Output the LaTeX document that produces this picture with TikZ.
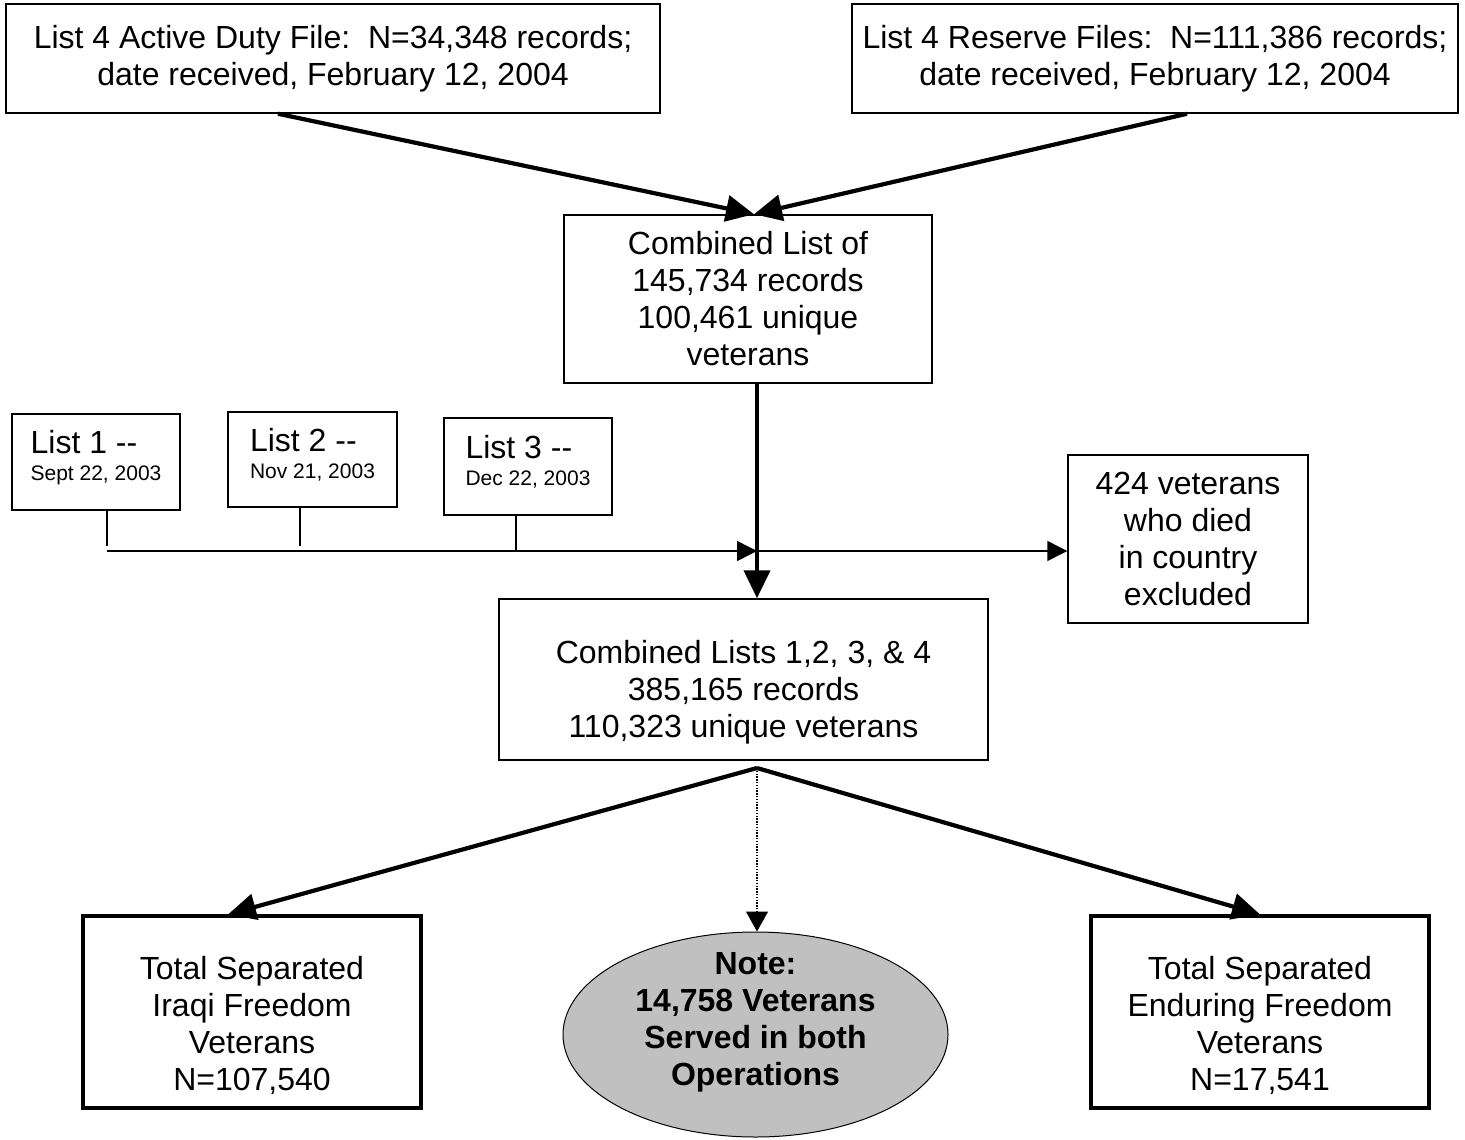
\documentclass[tikz,border=0pt]{standalone}
\usepackage{fontspec}
\setmainfont{Liberation Sans}
\usepackage{xcolor}
\usepackage{tikz}
\usetikzlibrary{positioning,arrows.meta,shapes.geometric}
\definecolor{notegray}{HTML}{C0C0C0}
\newcommand{\sdate}[1]{{\fontsize{10.5}{12}\selectfont #1\rule[-6.5pt]{0pt}{6.5pt}}}

\begin{document}
\begin{tikzpicture}[x=0.5pt,y=-0.5pt,
 b/.style={draw,line width=0.75pt,align=center,inner sep=0pt,font=\fontsize{16}{18.5}\selectfont},
 bb/.style={b,line width=1.6pt},
 lb/.style={b,align=left,font=\fontsize{16}{13.5}\selectfont},
 note/.style={ellipse,draw,line width=0.5pt,fill=notegray,align=center,inner xsep=0pt,inner ysep=-10pt,font=\fontsize{16}{18.5}\selectfont\bfseries},
 fat/.style={line width=2.1pt,-{Triangle[length=14pt,width=13pt]}},
 slim/.style={line width=0.75pt,-{Triangle[length=10pt,width=10pt]}},
 dotline/.style={line width=0.6pt,dash pattern=on 0.7pt off 0.7pt,-{Triangle[length=10pt,width=11pt]}}]
\useasboundingbox (0,0) rectangle (1465,1139);
\node[b,minimum width=327pt,minimum height=54.5pt] (act) at (333,58.5) {List 4 Active Duty File:\ \ N=34,348 records;\\date received, February 12, 2004};
\node[b,minimum width=303pt,minimum height=54.5pt] (res) at (1155,58.5) {List 4 Reserve Files:\ \ N=111,386 records;\\date received, February 12, 2004};
\node[b,minimum width=184pt,minimum height=84pt] (comb) at (748,299) {Combined List of\\145,734 records\\100,461 unique\\veterans};
\node[lb,minimum width=84pt,minimum height=48pt] (l1) at (96,462) {List 1 -{}-\\\sdate{Sept 22, 2003}};
\node[lb,minimum width=84.5pt,minimum height=47.5pt] (l2) at (312.5,459.5) {List 2 -{}-\\\sdate{Nov 21, 2003}};
\node[lb,minimum width=84pt,minimum height=48.5pt] (l3) at (528,466.5) {List 3 -{}-\\\sdate{Dec 22, 2003}};
\node[b,minimum width=120pt,minimum height=84pt] (dead) at (1188,539) {424 veterans\\who died\\in country\\excluded};
\node[b,minimum width=244.5pt,minimum height=80.5pt] (all) at (743.5,679.5) {\rule{0pt}{24pt}Combined Lists 1,2, 3, \& 4\\385,165 records\\110,323 unique veterans};
\node[bb,minimum width=169pt,minimum height=96pt] (iraqi) at (252,1012) {\rule{0pt}{25.5pt}Total Separated\\Iraqi Freedom\\Veterans\\N=107,540};
\node[bb,minimum width=169pt,minimum height=96pt] (endur) at (1260,1012) {\rule{0pt}{25.5pt}Total Separated\\Enduring Freedom\\Veterans\\N=17,541};
\node[note,minimum width=192.5pt,minimum height=102.5pt] (nt) at (755.5,1034.5) {Note:\\14,758 Veterans\\Served in both\\Operations\rule[-16pt]{0pt}{16pt}};
\coordinate (bus) at (107,551);
\coordinate (jn) at (757,551);
\coordinate (split) at (757,768);
% list 4 files into the combined list
\draw[fat] ([xshift=-27.5pt]act.south) -- ([xshift=3pt]comb.north);
\draw[fat] ([xshift=16pt]res.south) -- ([xshift=3pt]comb.north);
\draw[fat] (comb.south -| jn) -- (all.north -| jn);
% lists 1-3
\draw[line width=0.75pt] ([xshift=5.5pt]l1.south) -- ++(0,35);
\draw[line width=0.75pt] ([xshift=-6.25pt]l2.south) -- ++(0,38);
\draw[line width=0.75pt] ([xshift=-6pt]l3.south) -- ++(0,36);
\draw[slim] (bus) -- (jn);
\draw[slim] (jn) -- (jn -| dead.west);
% split by operation
\draw[fat] (split) -- ([xshift=-12pt]iraqi.north);
\draw[fat] (split) -- (endur.north);
\draw[dotline] (split) -- (split |- nt.north);
\end{tikzpicture}
\end{document}
